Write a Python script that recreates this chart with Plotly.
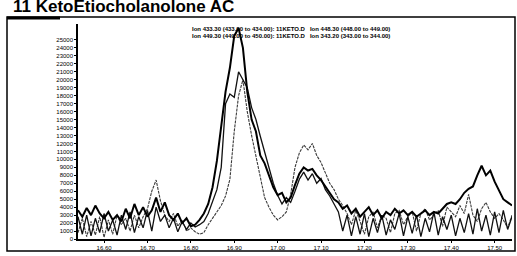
import plotly.graph_objects as go

# retention times (min), one scan every 0.01 min
times = [round(16.54 + 0.01 * i, 2) for i in range(101)]

ion_a = [3600, 2800, 3900, 3000, 4200, 3200, 2600, 3400, 2400, 3000,
         2200, 3800, 2600, 4400, 3000, 4000, 2800, 3600, 5200, 3400,
         4600, 3000, 2400, 3200, 2000, 2600, 1600, 1800, 2400, 3200,
         4400, 6500, 9800, 14500, 18500, 21500, 25500, 26500, 24000, 18500,
         15000, 13500, 10500, 9500, 8000, 6500, 5500, 5800, 4600, 5200,
         6800, 8200, 9000, 8600, 8800, 8000, 7400, 6600, 5800, 5000,
         4600, 3800, 4200, 3200, 3800, 2800, 3400, 4000, 3000, 3600,
         2600, 3400, 3000, 3800, 3200, 3600, 3000, 3400, 2800, 3200,
         3600, 3000, 3400, 3200, 3800, 4400, 4600, 4400, 5000, 5800,
         6300, 6600, 8000, 9200, 8000, 8600, 7200, 6000, 5000, 4600, 4200]

ion_b = [2800, 600, 3000, 400, 2600, 800, 3200, 1000, 2400, 500,
         3000, 1200, 3400, 800, 2800, 1400, 3600, 1000, 4000, 2200,
         3000, 1400, 2600, 900, 2200, 1200, 2000, 1500, 1800, 2200,
         3200, 4800, 6200, 9000, 17000, 18200, 17800, 21000, 20000, 19000,
         16500, 15000, 12900, 11000, 9200, 7000, 5500, 4400, 5200, 4600,
         6000, 7500, 8400, 7400, 8200, 7000, 7600, 6200, 5400, 4400,
         3400, 1000, 3000, 400, 2800, 600, 3200, 300, 2600, 800,
         3000, 500, 2400, 1200, 3200, 400, 2800, 700, 3000, 300,
         2600, 900, 3400, 500, 2800, 1200, 3000, 400, 2600, 800,
         3200, 600, 3800, 1000, 3000, 500, 3400, 800, 3600, 1200, 2800]

ion_c = [800, 2600, 300, 2200, 500, 2800, 200, 2400, 600, 3000,
         1800, 2600, 1000, 3000, 1400, 2800, 3800, 6000, 7400, 4800,
         3000, 2200, 3200, 1600, 2400, 1000, 1400, 900, 600, 800,
         1800, 2600, 3400, 4200, 5400, 7500, 13500, 18000, 20000, 16000,
         13000, 10500, 8000, 5200, 4000, 3000, 2400, 2800, 3400, 5600,
         9000, 10800, 11800, 11200, 12000, 10500, 9600, 8200, 7000, 6200,
         5000, 4200, 3200, 1800, 3600, 2200, 600, 2800, 3400, 1400,
         3000, 2600, 800, 3200, 3600, 1800, 2800, 3400, 1000, 3200,
         3800, 2400, 3000, 3600, 1600, 4000, 3400, 2800, 4200, 3200,
         5600, 3000, 2200, 3800, 4600, 3400, 2600, 3200, 2400, 1400, 3000]

y_ticks = list(range(0, 26000, 1000))
y_labels = [str(v) for v in y_ticks]
x_ticks = [16.60, 16.70, 16.80, 16.90, 17.00, 17.10, 17.20, 17.30, 17.40, 17.50]
x_labels = ["%.2f" % v for v in x_ticks]

title_text = "11 KetoEtiocholanolone AC"
legend_rows = ["Ion 433.30 (433.00 to 434.00): 11KETO.D   Ion 448.30 (448.00 to 449.00)",
               "Ion 449.30 (449.00 to 450.00): 11KETO.D   Ion 343.20 (343.00 to 344.00)"]

fig = go.Figure()
fig.add_trace(go.Scatter(x=times, y=ion_c, mode="lines",
                         line=dict(color="#3a3a3a", width=1.1, dash="3px,1px")))
fig.add_trace(go.Scatter(x=times, y=ion_b, mode="lines",
                         line=dict(color="#111111", width=1.3)))
fig.add_trace(go.Scatter(x=times, y=ion_a, mode="lines",
                         line=dict(color="#000000", width=2)))

W, H = 517, 256
L, R, T, B = 78, 5, 24, 15
pw, ph = W - L - R, H - T - B


def px(xp):
    return (xp - L) / pw


def py(yp):
    return (H - B - yp) / ph


fig.update_layout(
    width=W, height=H, margin=dict(l=L, r=R, t=T, b=B),
    paper_bgcolor="white", plot_bgcolor="white", showlegend=False,
    font=dict(family="Liberation Sans, Arial", color="black"),
    xaxis=dict(range=[16.54, 17.54], tickvals=x_ticks, ticktext=x_labels,
               showgrid=False, zeroline=False, showline=True, linecolor="black",
               linewidth=1.5, ticks="outside", ticklen=2, tickcolor="black",
               tickfont=dict(size=6, color="black"), ticklabelstandoff=0),
    yaxis=dict(range=[0, 27000], tickvals=y_ticks, ticktext=y_labels,
               showgrid=False, zeroline=False, showline=True, linecolor="black",
               linewidth=1.5, ticks="outside", ticklen=2, tickcolor="black",
               tickfont=dict(size=6, color="black")),
)

# outer frame of the printed report
fig.add_shape(type="rect", xref="paper", yref="paper",
              x0=px(7), x1=px(515), y0=py(253), y1=py(17),
              line=dict(color="black", width=1.5), layer="above")
fig.add_shape(type="rect", xref="paper", yref="paper",
              x0=px(7), x1=px(60), y0=py(19.5), y1=py(16.5),
              fillcolor="black", line=dict(width=0), layer="above")

fig.add_annotation(text="<b>" + title_text + "</b>", xref="paper", yref="paper",
                   x=px(11), y=py(17.5), xanchor="left", yanchor="bottom",
                   showarrow=False, font=dict(size=17, color="black"))
for k, row in enumerate(legend_rows):
    fig.add_annotation(text="<b>" + row + "</b>", xref="paper", yref="paper",
                       x=px(190), y=py(29 + 7 * k), xanchor="left", yanchor="middle",
                       showarrow=False, font=dict(size=6, color="black"))

fig.write_html("out.html", config={"displayModeBar": False},
               post_script="document.body.style.margin='0';")
